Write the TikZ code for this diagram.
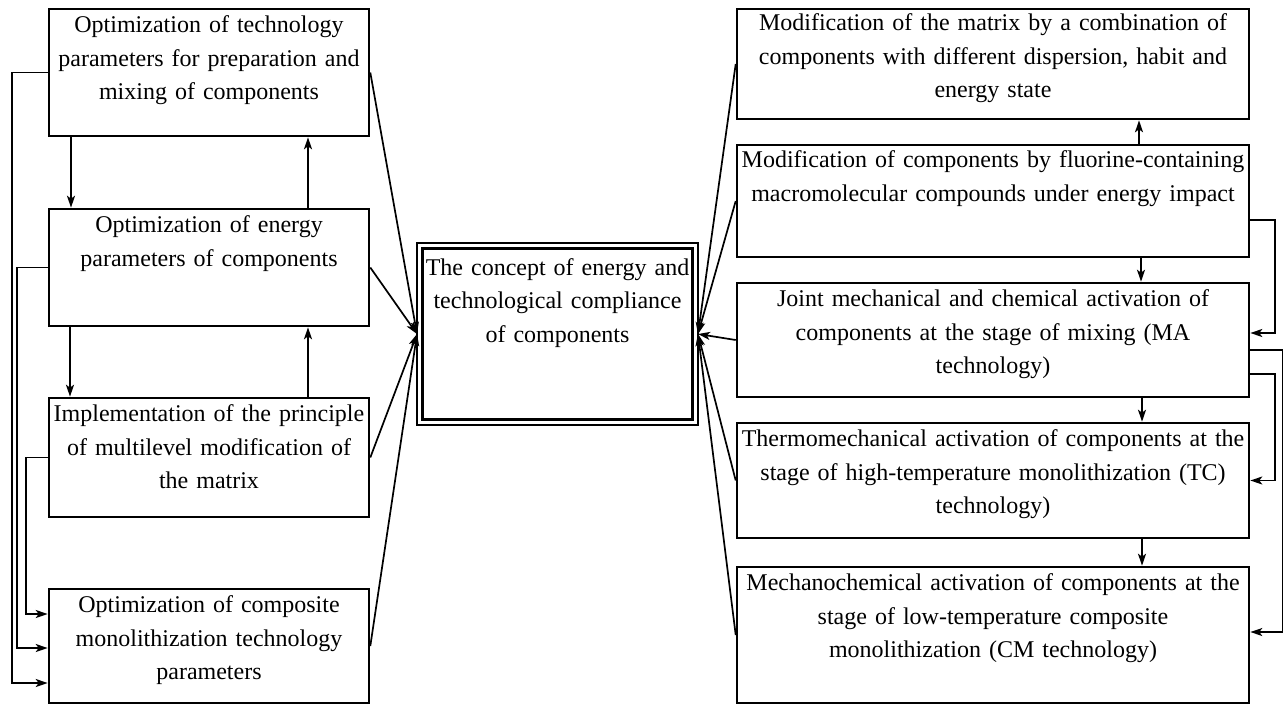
\documentclass[tikz,border=0pt]{standalone}
\usepackage{fontspec}
\setmainfont{Liberation Serif}
\usetikzlibrary{arrows.meta,calc}
\begin{document}
\begin{tikzpicture}[x=1pt,y=-1pt,
  box/.style={draw,line width=2.6pt,inner sep=0pt},
  txt/.style={font=\fontsize{24}{33.5}\selectfont,align=center,anchor=base,inner sep=0pt,text width=560pt},
  ln/.style={line width=1.7pt},
  arr/.style={line width=1.7pt,-{Stealth[length=12pt,width=8pt,inset=3pt]}}
]
\useasboundingbox (0,0) rectangle (1284,704);

% left column
\node[box,minimum width=320,minimum height=127] (L1) at (209,72.5) {};
\node[box,minimum width=320,minimum height=117] (L2) at (209,267.5) {};
\node[box,minimum width=320,minimum height=119] (L3) at (209,457.5) {};
\node[box,minimum width=320,minimum height=114] (L4) at (209,646) {};

\node[txt] (L1t) at ($(L1.north)+(0,25)$) {Optimization of technology\\parameters for preparation and\\mixing of components};
\node[txt] (L2t) at ($(L2.north)+(0,25)$) {Optimization of energy\\parameters of components};
\node[txt] (L3t) at ($(L3.north)+(0,25)$) {Implementation of the principle\\of multilevel modification of\\the matrix};
\node[txt] (L4t) at ($(L4.north)+(0,25)$) {Optimization of composite\\monolithization technology\\parameters};

% centre
\node[draw,line width=1.4pt,outer sep=0pt,inner sep=0pt,minimum width=281,minimum height=182] (C) at (557.5,334) {};
\draw[line width=2.4pt] ($(C.north west)+(5.5,5.5)$) rectangle ($(C.south east)+(-5.5,-5.5)$);
\node[txt] (Ct) at ($(C.north)+(0,32)$) {The concept of energy and\\technological compliance\\of components};

% right column
\node[box,minimum width=512,minimum height=110] (R1) at (993,64) {};
\node[box,minimum width=512,minimum height=112] (R2) at (993,201) {};
\node[box,minimum width=512,minimum height=114] (R3) at (993,340) {};
\node[box,minimum width=512,minimum height=115] (R4) at (993,480.5) {};
\node[box,minimum width=512,minimum height=136] (R5) at (993,635) {};

\node[txt] (R1t) at ($(R1.north)+(0,23)$) {Modification of the matrix by a combination of\\components with different dispersion, habit and\\energy state};
\node[txt] (R2t) at ($(R2.north)+(0,24)$) {Modification of components by fluorine-containing\\macromolecular compounds under energy impact};
\node[txt] (R3t) at ($(R3.north)+(0,25)$) {Joint mechanical and chemical activation of\\components at the stage of mixing (MA\\technology)};
\node[txt] (R4t) at ($(R4.north)+(0,25)$) {Thermomechanical activation of components at the\\stage of high-temperature monolithization (TC)\\technology)};
\node[txt] (R5t) at ($(R5.north)+(0,25)$) {Mechanochemical activation of components at the\\stage of low-temperature composite\\monolithization (CM technology)};

% arrows to centre
\foreach \n in {L1,L2,L3,L4} \draw[arr] (\n.east) -- (C.west);
\foreach \n in {R1,R2,R3,R4,R5} \draw[arr] (\n.west) -- (C.east);

% left vertical arrows
\draw[arr] ($(L1.south)+(-138,0)$) -- ($(L2.north)+(-138,0)$);
\draw[arr] ($(L2.north)+(99,0)$) -- ($(L1.south)+(99,0)$);
\draw[arr] ($(L2.south)+(-139,0)$) -- ($(L3.north)+(-139,0)$);
\draw[arr] ($(L3.north)+(99,0)$) -- ($(L2.south)+(99,0)$);

% left side feedback lines
\draw[arr] (L1.west) -- ++(-36,0) |- ($(L4.west)+(0,37)$);
\draw[arr] (L2.west) -- ++(-31,0) |- ($(L4.west)+(0,2)$);
\draw[arr] (L3.west) -- ++(-22,0) |- ($(L4.west)+(0,-32)$);

% right vertical arrows
\draw[arr] ($(R2.north)+(146,0)$) -- ($(R1.south)+(146,0)$);
\draw[arr] ($(R2.south)+(148,0)$) -- ($(R3.north)+(148,0)$);
\draw[arr] ($(R3.south)+(149,0)$) -- ($(R4.north)+(149,0)$);
\draw[arr] ($(R4.south)+(149,0)$) -- ($(R5.north)+(149,0)$);

% right side lines
\draw[arr] ($(R2.east)+(0,19)$) -- ++(25,0) |- ($(R3.east)+(0,-7)$);
\draw[arr] ($(R3.east)+(0,34)$) -- ++(25,0) |- (R4.east);
\draw[arr,line width=1.3pt] ($(R3.east)+(0,10)$) -- ++(32.3,0) |- ($(R5.east)+(0,-3)$);
\end{tikzpicture}
\end{document}
